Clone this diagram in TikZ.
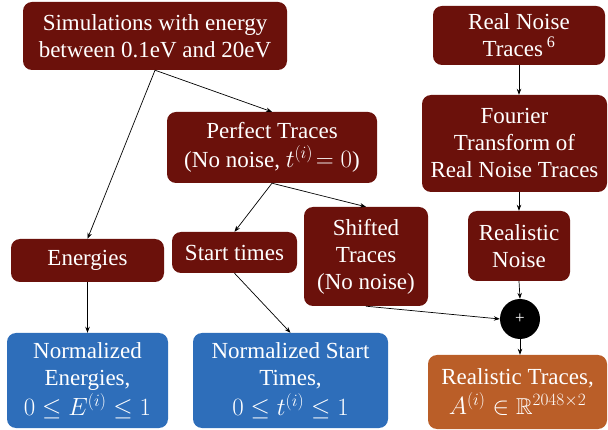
\documentclass[tikz,border=0pt]{standalone}
\usepackage{fontspec}
\usepackage{amssymb}
\setmainfont{Liberation Serif}
\usetikzlibrary{arrows.meta}
\definecolor{maroon}{RGB}{107,17,11}
\definecolor{bluebox}{RGB}{46,110,186}
\definecolor{orangebox}{RGB}{186,94,40}
\begin{document}
\begin{tikzpicture}[x=1pt,y=-1pt,
  box/.style={rounded corners=9pt, draw=none, text=white, align=center, inner sep=0pt,
    font=\fontsize{23}{27}\selectfont},
  rbox/.style={box, fill=maroon},
  bbox/.style={box, fill=bluebox},
  obox/.style={box, fill=orangebox},
  arr/.style={-{Stealth[length=6pt,width=4.5pt]}, line width=0.7pt, black}]
\useasboundingbox (0,0) rectangle (608,430);
\node[rbox, minimum width=264pt, minimum height=68pt] (sim) at (155,36) {Simulations with energy\\between 0.1eV and 20eV};
\node[rbox, minimum width=172pt, minimum height=59pt] (rnt) at (519,35.5) {Real Noise\\Traces\,\textsuperscript{6}};
\node[rbox, minimum width=185pt, minimum height=97pt] (four) at (514.5,143.5) {Fourier\\Transform of\\Real Noise Traces};
\node[rbox, minimum width=210pt, minimum height=71pt] (perf) at (272,147.5) {Perfect Traces\\[2pt](No noise, $t^{(i)}\!= 0$)};
\node[rbox, minimum width=153pt, minimum height=43pt] (ener) at (87.5,260.5) {Energies};
\node[rbox, minimum width=125pt, minimum height=41pt] (start) at (234.5,252.5) {Start times};
\node[rbox, minimum width=124pt, minimum height=99pt] (shift) at (366,256.5) {Shifted\\Traces\\(No noise)};
\node[rbox, minimum width=102pt, minimum height=70pt] (rnoise) at (519,246) {Realistic\\Noise};
\node[circle, fill=black, minimum size=40pt, inner sep=0pt, text=white, font=\fontsize{17}{20}\selectfont] (plus) at (520,319) {+};
\node[obox, minimum width=179pt, minimum height=74pt] (rtr) at (517.5,392) {Realistic Traces,\\[3pt]$A^{(i)}\in\mathbb{R}^{2048\times2}$};
\node[bbox, minimum width=161pt, minimum height=95pt] (nen) at (87.5,380.5) {Normalized\\Energies,\\[3pt]$0\le E^{(i)}\le 1$};
\node[bbox, minimum width=195pt, minimum height=95pt] (nst) at (290.5,380.5) {Normalized Start\\Times,\\[3pt]$0\le t^{(i)}\le 1$};
\draw[arr] (sim.south) -- (ener.north);
\draw[arr] (sim.south) -- (perf.north);
\draw[arr] (perf.south) -- (start.north);
\draw[arr] (perf.south) -- (shift.north);
\draw[arr] (ener.south) -- (nen.north);
\draw[arr] (start.south) -- (nst.north);
\draw[arr] (rnt.south) -- (rnt.south |- four.north);
\draw[arr] (four.south -| rnoise.north) -- (rnoise.north);
\draw[arr] (rnoise.south) -- (plus.north);
\draw[arr] (shift.south) -- (plus.west);
\draw[arr] (plus.south) -- (plus.south |- rtr.north);
\end{tikzpicture}
\end{document}
